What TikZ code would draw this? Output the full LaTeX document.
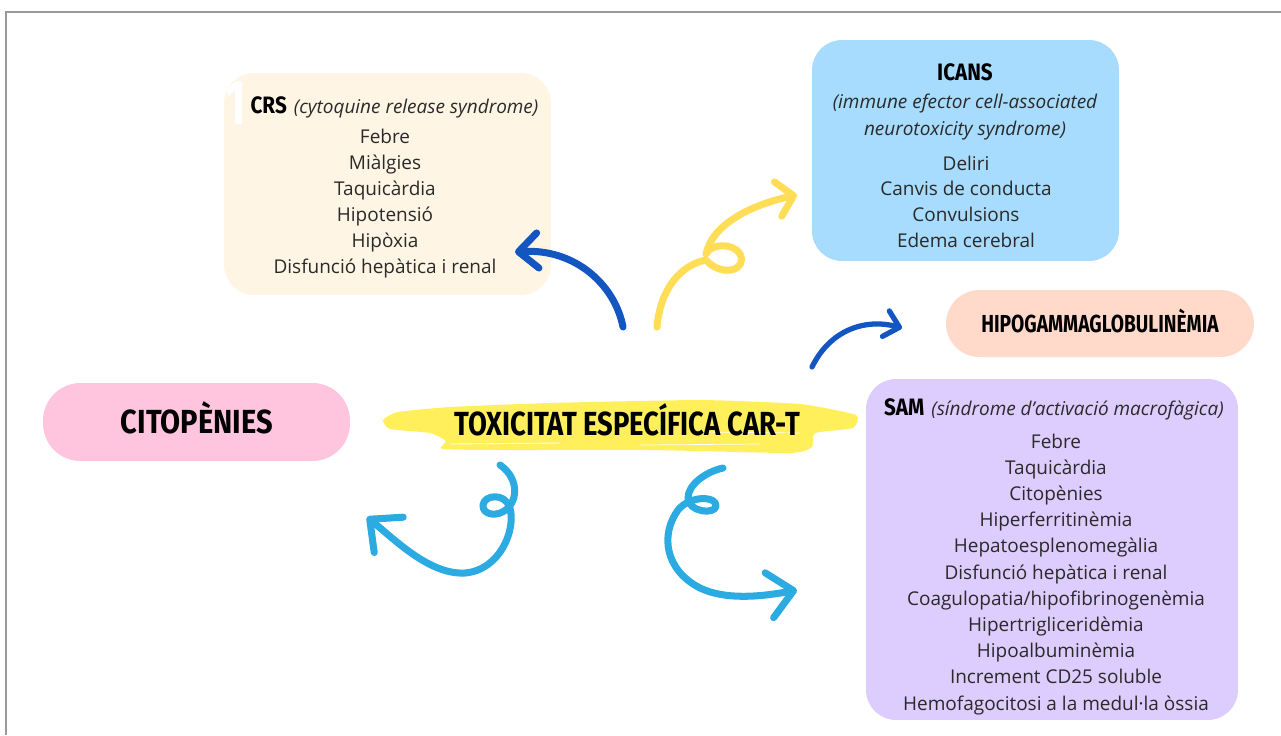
\documentclass[tikz,border=0pt]{standalone}
\usepackage{fontspec}
\setmainfont{Open Sans}
\newfontfamily\headfam{Fira Sans}
\usetikzlibrary{arrows.meta}
\definecolor{crsbg}{HTML}{FFF5E5}
\definecolor{icansbg}{HTML}{A7DCFE}
\definecolor{hipobg}{HTML}{FFD9C9}
\definecolor{citobg}{HTML}{FFC4DE}
\definecolor{sambg}{HTML}{DDCCFE}
\definecolor{dblue}{HTML}{1356C2}
\definecolor{lblue}{HTML}{2BABE2}
\definecolor{ayel}{HTML}{FFDD57}
\definecolor{brush}{HTML}{FEEF5B}
\definecolor{txt}{HTML}{2A2A2A}
\definecolor{framegray}{HTML}{9A9A9A}
\newcommand\hdtxt[3]{{\headfam\bfseries\fontsize{#1}{#1}\selectfont\scalebox{#2}[1]{#3}}}
\begin{document}
\begin{tikzpicture}[x=0.02cm,y=-0.02cm,
  box/.style={rounded corners=0.6cm, inner sep=0pt, draw=none},
  item/.style={font=\fontsize{10.8}{12}\selectfont, text=txt, anchor=base, inner sep=0pt},
  sub/.style={font=\itshape\fontsize{10.8}{12}\selectfont, text=txt, anchor=base, inner sep=0pt},
  ttl/.style={anchor=base, inner sep=0pt, text=black},
  harrow/.style={line width=4pt, line cap=round, line join=round},
]
\useasboundingbox (0,0) rectangle (1281,735);
\draw[framegray, line width=1.1pt] (6,735) -- (6,12) -- (1281,12);

% boxes
\node[box, fill=crsbg, minimum width=6.54cm, minimum height=4.44cm] (crs) at (387.5,184) {};
\node[box, fill=icansbg, minimum width=6.14cm, minimum height=4.42cm] (icans) at (965.5,150.5) {};
\node[box, rounded corners=0.67cm, fill=hipobg, minimum width=6.16cm, minimum height=1.34cm] (hipo) at (1100,323.5) {};
\node[box, rounded corners=0.75cm, fill=citobg, minimum width=6.14cm, minimum height=1.56cm] (cito) at (196.5,422) {};
\node[box, fill=sambg, minimum width=7.44cm, minimum height=6.82cm] (sam) at (1052,549.5) {};

% brush stroke
\fill[brush] plot[smooth cycle, tension=0.3] coordinates {(383,420) (398,412) (450,407) (550,403) (700,400) (800,404) (856,415) (853,428) (815,433) (812,447) (790,453) (650,450) (500,450) (442,449) (446,441) (430,433) (390,429)};
\draw[white, line width=0.5pt] (450,444) -- (560,443);
\draw[white, line width=0.4pt] (640,445) -- (760,444);
\draw[white, line width=0.4pt] (700,432) -- (800,433);

% CRS
\node[text=white, inner sep=0pt, anchor=base] (one) at (236,124) {\hdtxt{36}{0.7}{1}};
\node[ttl] (crst) at (394.5,113) {\hdtxt{13.5}{0.87}{CRS}\hspace{4pt}{\itshape\fontsize{10.8}{12}\selectfont\color{txt}(cytoquine release syndrome)}};
\foreach \t [count=\i] in {Febre,Miàlgies,Taquicàrdia,Hipotensió,Hipòxia,Disfunció hepàtica i renal}
  \node[item] (crsi\i) at (385,{143+26*(\i-1)}) {\t};

% ICANS
\node[ttl] (icanst) at (965,80) {\hdtxt{13.5}{0.87}{ICANS}};
\node[sub] (icanss1) at (965,108) {(immune efector cell-associated};
\node[sub] (icanss2) at (965,135) {neurotoxicity syndrome)};
\foreach \t [count=\i] in {Deliri,Canvis de conducta,Convulsions,Edema cerebral}
  \node[item] (icansi\i) at (966,{170+25.7*(\i-1)}) {\t};

% HIPO, CITO, title
\node[ttl] (hipot) at (1100,332) {\hdtxt{14}{0.78}{HIPOGAMMAGLOBULINÈMIA}};
\node[ttl] (citot) at (197,433) {\hdtxt{19}{0.87}{CITOPÈNIES}};
\node[ttl] (title) at (627,435) {\hdtxt{19}{0.82}{TOXICITAT ESPECÍFICA CAR-T}};

% SAM
\node[ttl] (samt) at (1054,415) {\hdtxt{13.5}{0.87}{SAM}\hspace{4pt}{\itshape\fontsize{10.8}{12}\selectfont\color{txt}(síndrome d’activació macrofàgica)}};
\foreach \t [count=\i] in {Febre,Taquicàrdia,Citopènies,Hiperferritinèmia,Hepatoesplenomegàlia,Disfunció hepàtica i renal,Coagulopatia/hipofibrinogenèmia,Hipertrigliceridèmia,Hipoalbuminèmia,Increment CD25 soluble,Hemofagocitosi a la medul·la òssia}
  \node[item] (sami\i) at (1056,{448+26.2*(\i-1)}) {\t};

% arrow coordinates
\coordinate (a1s) at (623,327); \coordinate (a1e) at (515,252);
\coordinate (a2s) at (657,327); \coordinate (a2e) at (797,195);
\coordinate (a3s) at (812,367); \coordinate (a3e) at (902,328);
\coordinate (a4s) at (500,465); \coordinate (a4e) at (367,517);
\coordinate (a5s) at (723,468); \coordinate (a5e) at (797,590);

\draw[harrow, dblue, -{Straight Barb[length=11pt,width=20pt,round]}]
  (a1s) .. controls (615,285) and (575,248) .. (a1e);
\draw[harrow, ayel, -{Straight Barb[length=9pt,width=20pt,round]}]
  (a2s) .. controls (660,290) and (680,265) .. (706,260)
  .. controls (722,278) and (748,270) .. (740,254)
  .. controls (733,242) and (710,244) .. (706,254)
  .. controls (712,225) and (750,205) .. (a2e);
\draw[harrow, dblue, line width=3pt, -{Straight Barb[length=8pt,width=15pt,round]}]
  (a3s) .. controls (830,330) and (865,318) .. (a3e);
\draw[harrow, lblue, -{Straight Barb[length=14pt,width=26pt,round]}]
  (a4s) .. controls (515,475) and (520,495) .. (508,508)
  .. controls (498,518) and (482,515) .. (483,505)
  .. controls (484,495) and (505,492) .. (510,508)
  .. controls (516,530) and (500,570) .. (465,573)
  .. controls (430,575) and (395,540) .. (a4e);
\draw[harrow, lblue, -{Straight Barb[length=14pt,width=26pt,round]}]
  (a5s) .. controls (705,472) and (688,485) .. (688,498)
  .. controls (688,512) and (715,515) .. (716,506)
  .. controls (717,496) and (690,495) .. (678,510)
  .. controls (660,535) and (665,570) .. (700,588)
  .. controls (725,600) and (760,597) .. (a5e);
\end{tikzpicture}
\end{document}
